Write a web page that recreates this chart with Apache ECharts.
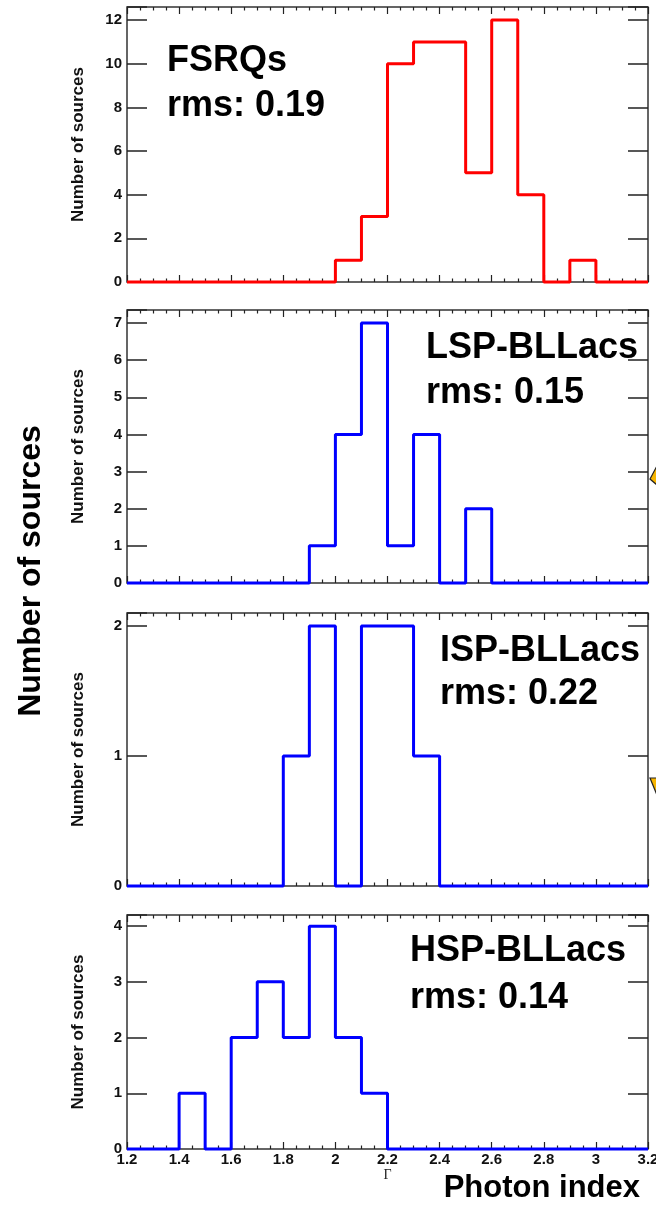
<!DOCTYPE html>
<html>
<head>
<meta charset="utf-8">
<script src="https://cdn.jsdelivr.net/npm/echarts@6/dist/echarts.min.js"></script>
<style>
  html, body { margin: 0; padding: 0; background: #fff; }
  #chart { width: 656px; height: 1205px; }
</style>
</head>
<body>
<div id="chart"></div>
<script>
// Photon index histograms per blazar class, bins of width 0.1 from 1.2 to 3.2
const binEdges = [1.2, 1.3, 1.4, 1.5, 1.6, 1.7, 1.8, 1.9, 2.0, 2.1, 2.2,
                  2.3, 2.4, 2.5, 2.6, 2.7, 2.8, 2.9, 3.0, 3.1, 3.2];

const fsrqCounts = [0, 0, 0, 0, 0, 0, 0, 0, 1, 3, 10, 11, 11, 5, 12, 4, 0, 1, 0, 0];
const lspCounts  = [0, 0, 0, 0, 0, 0, 0, 1, 4, 7, 1, 4, 0, 2, 0, 0, 0, 0, 0, 0];
const ispCounts  = [0, 0, 0, 0, 0, 0, 1, 2, 0, 2, 2, 1, 0, 0, 0, 0, 0, 0, 0, 0];
const hspCounts  = [0, 0, 1, 0, 2, 3, 2, 4, 2, 1, 0, 0, 0, 0, 0, 0, 0, 0, 0, 0];

const classNames = ['FSRQs', 'LSP-BLLacs', 'ISP-BLLacs', 'HSP-BLLacs'];
const rmsValues  = ['0.19', '0.15', '0.22', '0.14'];
const yMaxima    = [12.6, 7.35, 2.1, 4.2];
const yIntervals = [2, 1, 1, 1];
const lineColors = ['#ff0000', '#0000ff', '#0000ff', '#0000ff'];

const FONT = "'Liberation Sans', Arial, Helvetica, sans-serif";

// plot frames (pixels)
const panels = [
  { top: 7,   height: 275 },
  { top: 310, height: 273 },
  { top: 613, height: 273 },
  { top: 915, height: 234 }
];
const LEFT = 127, RIGHT = 8;

// annotation placement inside each frame
const labelPos = [
  { x: 167, y1: 63,  y2: 108 },
  { x: 426, y1: 350, y2: 395 },
  { x: 440, y1: 653, y2: 696 },
  { x: 410, y1: 953, y2: 1000 }
];

// outline of a histogram: horizontal segment over each bin
function outline(counts) {
  const pts = [];
  counts.forEach((c, i) => {
    pts.push([binEdges[i], c]);
    pts.push([binEdges[i + 1], c]);
  });
  return pts;
}

const allCounts = [fsrqCounts, lspCounts, ispCounts, hspCounts];

const grids = [], xAxes = [], yAxes = [], series = [], graphics = [];

const tickStyle = { color: '#222', width: 1.2 };

panels.forEach((p, k) => {
  grids.push({
    left: LEFT, right: RIGHT, top: p.top, height: p.height,
    outerBoundsMode: 'none', containLabel: false,
    show: true, borderColor: '#333', borderWidth: 1.5, backgroundColor: 'transparent'
  });
  const isLast = k === panels.length - 1;
  // bottom x axis
  xAxes.push({
    type: 'value', gridIndex: k, position: 'bottom',
    min: 1.2, max: 3.2, interval: 0.2,
    axisLine: { show: false, onZero: false },
    axisTick: { show: true, inside: true, length: 7, lineStyle: tickStyle },
    minorTick: { show: true, splitNumber: 4, length: 3.5, lineStyle: tickStyle },
    splitLine: { show: false },
    axisLabel: {
      show: isLast, margin: 3, color: '#111',
      fontFamily: FONT, fontWeight: 'bold', fontSize: 15
    },
    name: isLast ? 'Γ' : '',
    nameLocation: 'middle', nameGap: 14,
    nameTextStyle: { fontFamily: "'Liberation Serif', 'DejaVu Serif', serif", fontSize: 14, color: '#222' }
  });
  // top x axis (ticks only)
  xAxes.push({
    type: 'value', gridIndex: k, position: 'top',
    min: 1.2, max: 3.2, interval: 0.2,
    axisLine: { show: false, onZero: false },
    axisTick: { show: true, inside: true, length: 7, lineStyle: tickStyle },
    minorTick: { show: true, splitNumber: 4, length: 3.5, lineStyle: tickStyle },
    splitLine: { show: false },
    axisLabel: { show: false }
  });
  // left y axis
  yAxes.push({
    type: 'value', gridIndex: k, position: 'left',
    min: 0, max: yMaxima[k], interval: yIntervals[k],
    axisLine: { show: false, onZero: false },
    axisTick: { show: true, inside: true, length: 20, lineStyle: { color: '#222', width: 1.5 } },
    splitLine: { show: false },
    axisLabel: {
      margin: 5, color: '#111', fontFamily: FONT, fontWeight: 'bold', fontSize: 15,
      formatter: v => (Number.isInteger(v) ? String(v) : '')
    },
    name: 'Number of sources', nameLocation: 'middle', nameGap: 40, nameRotate: 90,
    nameTextStyle: { fontFamily: FONT, fontWeight: 'bold', fontSize: 17, color: '#111' }
  });
  // right y axis (ticks only)
  yAxes.push({
    type: 'value', gridIndex: k, position: 'right',
    min: 0, max: yMaxima[k], interval: yIntervals[k],
    axisLine: { show: false, onZero: false },
    axisTick: { show: true, inside: true, length: 20, lineStyle: { color: '#222', width: 1.5 } },
    splitLine: { show: false },
    axisLabel: { show: false }
  });

  series.push({
    type: 'line', xAxisIndex: 2 * k, yAxisIndex: 2 * k,
    data: outline(allCounts[k]),
    showSymbol: false, symbol: 'none', clip: false, silent: true,
    lineStyle: { color: lineColors[k], width: 3 },
    z: 5
  });

  graphics.push({
    type: 'text', left: labelPos[k].x, top: labelPos[k].y1 - 20, z: 10,
    style: { text: classNames[k], fill: '#000', font: `bold 36px ${FONT}` }
  });
  graphics.push({
    type: 'text', left: labelPos[k].x, top: labelPos[k].y2 - 20, z: 10,
    style: { text: 'rms: ' + rmsValues[k], fill: '#000', font: `bold 36px ${FONT}` }
  });
});

// shared axis titles
graphics.push({
  type: 'text', x: 31, y: 571, rotation: Math.PI / 2, z: 10,
  style: { text: 'Number of sources', fill: '#000', font: `bold 32px ${FONT}`,
           align: 'center', verticalAlign: 'middle' }
});
graphics.push({
  type: 'text', x: 640, y: 1188, z: 10,
  style: { text: 'Photon index', fill: '#000', font: `bold 31px ${FONT}`,
           align: 'right', verticalAlign: 'middle' }
});

// pointer tips entering from the right margin
graphics.push({
  type: 'polygon', z: 10,
  shape: { points: [[650, 479], [657, 466], [657, 485]] },
  style: { fill: '#f7b500', stroke: '#222', lineWidth: 1.2 }
});
graphics.push({
  type: 'polygon', z: 10,
  shape: { points: [[650, 778], [657, 778], [657, 795]] },
  style: { fill: '#f7b500', stroke: '#222', lineWidth: 1.2 }
});

const chart = echarts.init(document.getElementById('chart'), null, { renderer: 'canvas' });
chart.setOption({
  animation: false,
  backgroundColor: '#fff',
  grid: grids,
  xAxis: xAxes,
  yAxis: yAxes,
  series: series,
  graphic: graphics
});
</script>
</body>
</html>
